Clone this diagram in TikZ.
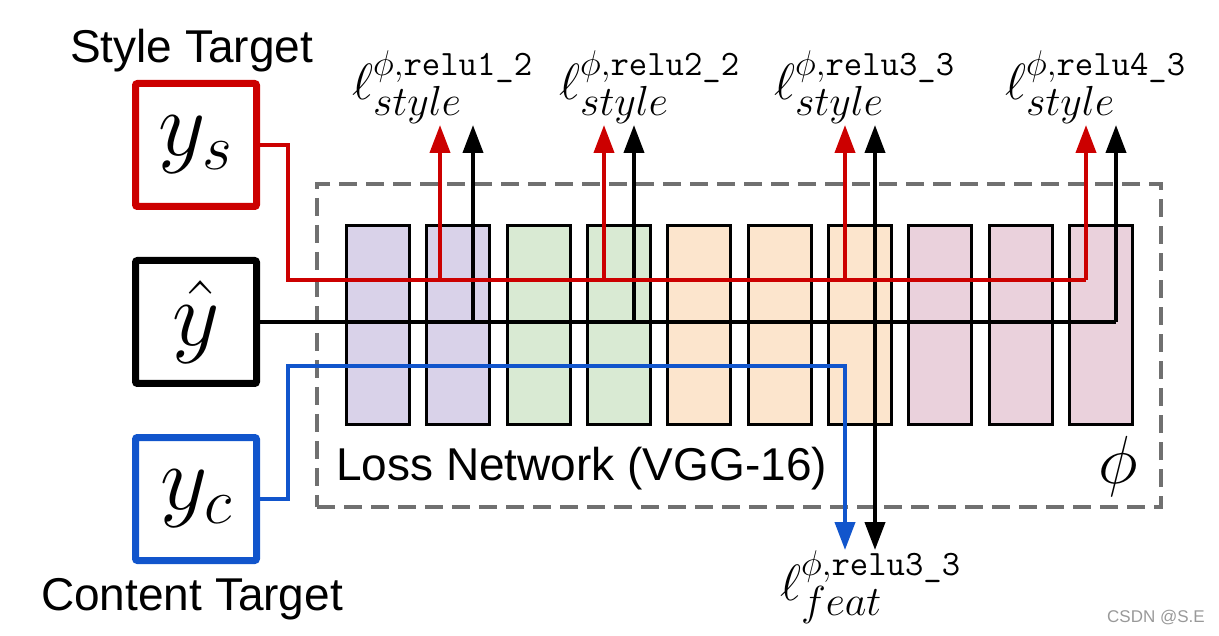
\RequirePackage{fix-cm}
\documentclass[tikz,border=0pt]{standalone}
\usepackage{amsmath}
\usepackage{fontspec}
\setmainfont{Liberation Sans}
\usetikzlibrary{arrows.meta}
\definecolor{cred}{HTML}{CC0000}
\definecolor{cblue}{HTML}{1155CC}
\definecolor{cgray}{HTML}{707070}
\definecolor{lpurple}{HTML}{D9D2E9}
\definecolor{lgreen}{HTML}{D9EAD3}
\definecolor{lorange}{HTML}{FCE5CD}
\definecolor{lpink}{HTML}{EAD1DC}
\newcommand{\lowsub}[1]{\lower8pt\hbox{\fontsize{42}{44}\selectfont$#1$}}
\begin{document}
\begin{tikzpicture}[x=1pt,y=-1pt,
  tbox/.style={draw, line width=7pt, minimum width=121pt, minimum height=123pt, inner sep=0pt, rounded corners=2pt, font=\fontsize{92}{100}\selectfont},
  layer/.style={draw, line width=3pt, minimum width=63pt, minimum height=199pt, inner sep=0pt},
  conn/.style={line width=4pt},
  tip/.style={-{Triangle[width=20pt,length=28pt]}},
  lbl/.style={anchor=base west, inner sep=0pt, font=\fontsize{51}{60}\selectfont},
  txt/.style={anchor=base west, inner sep=0pt, font=\fontsize{46}{50}\selectfont}]
\useasboundingbox (0,0) rectangle (1219,636);
% layers
\foreach \i/\c in {1/lpurple,2/lpurple,3/lgreen,4/lgreen,5/lorange,6/lorange,7/lorange,8/lpink,9/lpink,10/lpink}
  \node[layer, fill=\c] (L\i) at ({378+80.33*(\i-1)},325) {};
% network frame
\node[draw=cgray, line width=4pt, dash pattern=on 18pt off 9pt, minimum width=844pt, minimum height=323pt, inner sep=0pt] (net) at (739,345.5) {};
% input boxes
\node[tbox, draw=cred] (ys) at (196,145) {$y_s$};
\node[tbox, draw=black] (yh) at (196,322) {$\hat{y}$};
\node[tbox, draw=cblue] (yc) at (196,499) {$y_c$};
% texts
\node[txt] (st) at (70,63) {Style Target};
\node[txt] (ct) at (41,610) {Content Target};
\node[txt] (ln) at (336,480) {Loss Network (VGG-16)};
\node[anchor=base west, inner sep=0pt, font=\fontsize{68}{70}\selectfont] (phi) at (1098,483) {$\phi$};
\node[anchor=base west, inner sep=0pt, text=black!40, font=\fontsize{17}{20}\selectfont] (wm) at (1107,622) {CSDN @S.E};
% loss labels
\node[lbl] (s1) at (352,100) {$\ell^{\phi,\texttt{relu1\_2}}_{\lowsub{style}}$};
\node[lbl] (s2) at (559,100) {$\ell^{\phi,\texttt{relu2\_2}}_{\lowsub{style}}$};
\node[lbl] (s3) at (774,100) {$\ell^{\phi,\texttt{relu3\_3}}_{\lowsub{style}}$};
\node[lbl] (s4) at (1005,100) {$\ell^{\phi,\texttt{relu4\_3}}_{\lowsub{style}}$};
\node[lbl] (f3) at (780,600) {$\ell^{\phi,\texttt{relu3\_3}}_{\lowsub{feat}}$};
% coordinates
\coordinate (rj) at (288,280);
\coordinate (bj) at (288,366);
\coordinate (bend) at (845,550);
\coordinate (kend) at (1116,322);
\coordinate (rend) at (1086,280);
\coordinate (kdown) at (875,550);
% black connectors
\draw[conn] (yh.east) -- (kend);
\foreach \x in {473,634,875,1116} {
  \coordinate (kb\x) at (\x,322);
  \coordinate (kt\x) at (\x,125);
  \draw[conn, tip] (kb\x) -- (kt\x);
}
\draw[conn, tip] (kb875) -- (kdown);
% red connectors
\draw[conn, cred] (ys.east) -| (rj) -- (rend);
\foreach \x in {440,604,845,1086} {
  \coordinate (rb\x) at (\x,280);
  \coordinate (rt\x) at (\x,125);
  \draw[conn, cred, tip] (rb\x) -- (rt\x);
}
% blue connector
\draw[conn, cblue, tip] (yc.east) -| (bj) -| (bend);
\end{tikzpicture}
\end{document}
